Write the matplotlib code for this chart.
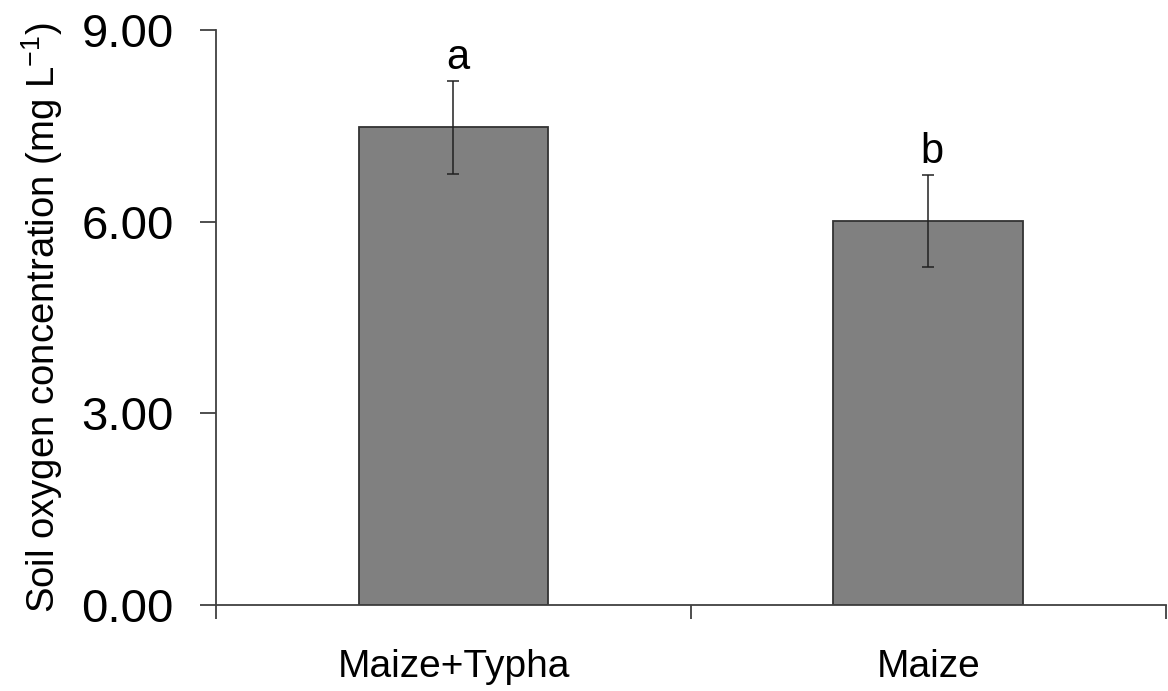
import matplotlib.pyplot as plt

# Data
groups = ['Maize+Typha', 'Maize']
oxygen = [7.48, 6.01]
oxygen_se = [0.73, 0.72]
letters = ['a', 'b']
yticks = [0, 3, 6, 9]

plt.rcParams['font.family'] = ['Liberation Sans', 'DejaVu Sans']
plt.rcParams['mathtext.fontset'] = 'custom'
plt.rcParams['mathtext.rm'] = 'Liberation Sans'
plt.rcParams['mathtext.default'] = 'rm'

fig = plt.figure(figsize=(11.68, 6.91), dpi=100)
ax = fig.add_axes([0.185, 0.1245, 0.813, 0.832])

x = list(range(len(groups)))
ax.bar(x, oxygen, width=0.4, color='#808080', edgecolor='#333333', linewidth=1.3, zorder=2)
ax.errorbar(x, oxygen, yerr=oxygen_se, fmt='none', ecolor='#222222',
            elinewidth=1.1, capsize=4, capthick=1.1, zorder=3)

# significance letters above the error bars
for xi, m, e, s in zip(x, oxygen, oxygen_se, letters):
    ax.annotate(s, (xi, m + e), xytext=(3, 2), textcoords='offset points',
                ha='center', va='bottom', fontsize=30)

ax.set_xlim(-0.5, len(groups) - 0.5)
ax.set_ylim(0, 9)
ax.set_yticks(yticks)
ax.set_yticklabels(['%.2f' % v for v in yticks], fontsize=34)

# ticks between categories, labels at category centres
ax.set_xticks([i - 0.5 for i in range(len(groups) + 1)])
ax.set_xticklabels([])
ax.set_xticks(x, minor=True)
ax.set_xticklabels(groups, minor=True, fontsize=28)
ax.tick_params(axis='x', which='minor', length=0, pad=32)
ax.tick_params(axis='x', which='major', length=10, width=1.3, color='#404040')
ax.tick_params(axis='y', length=11.5, width=1.3, color='#404040', pad=19)

for side in ['top', 'right']:
    ax.spines[side].set_visible(False)
for side in ['left', 'bottom']:
    ax.spines[side].set_color('#404040')
    ax.spines[side].set_linewidth(1.3)

ax.set_ylabel('Soil oxygen concentration (mg L$^{-1}$)', fontsize=27.5, labelpad=12)

fig.savefig('out.png', dpi=100)
